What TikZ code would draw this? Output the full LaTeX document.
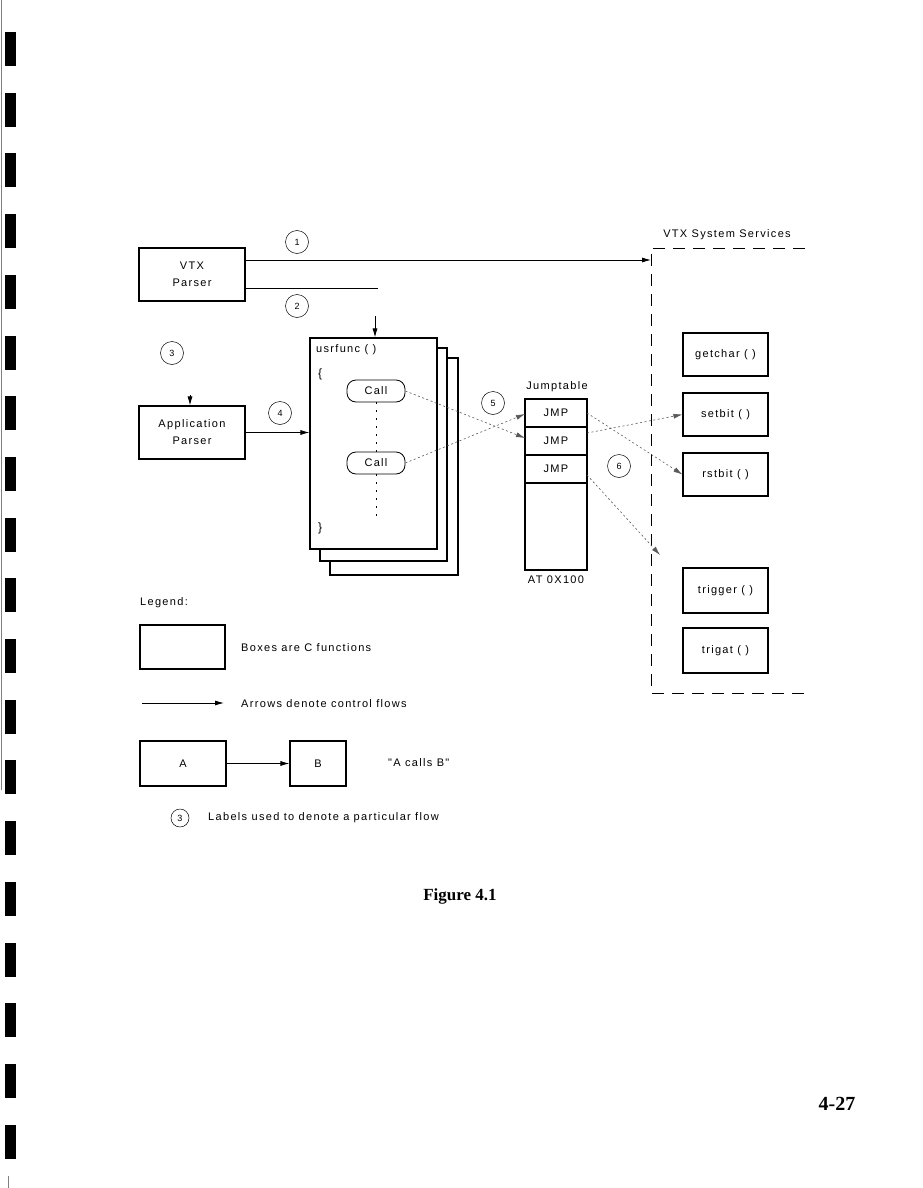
\documentclass[tikz,border=0pt]{standalone}
\usepackage{fontspec}
\usetikzlibrary{arrows.meta}
\newfontfamily\lab{Liberation Sans}[LetterSpace=12]
\newfontfamily\capfont{Liberation Serif}
\begin{document}
\begin{tikzpicture}[x=1pt,y=-1pt,
  box/.style={draw, line width=1.1pt, inner sep=0pt, align=center, font=\lab\fontsize{11}{17}\selectfont, fill=white},
  txt/.style={inner sep=0pt, font=\lab\fontsize{11}{12}\selectfont},
  lbl/.style={circle, draw, line width=0.5pt, minimum size=23, inner sep=0pt, font=\lab\fontsize{9}{10}\selectfont},
  arr/.style={line width=0.8pt, -{Latex[length=9pt,width=5pt]}},
  flow/.style={line width=0.6pt, gray!70!black, dash pattern=on 2pt off 2.5pt, -{Latex[length=9pt,width=5pt]}},
  callbox/.style={draw, rounded corners=9pt, line width=0.8pt, minimum width=58, minimum height=22, inner sep=0pt, font=\lab\fontsize{11}{12}\selectfont, fill=white},
  hole/.style={fill=black}
]
\useasboundingbox (0,0) rectangle (923,1188);

% binder holes and scan edge
\foreach \i in {0,...,18} {\fill[hole] (5,{32+60.7*\i}) rectangle +(11,34);}
\draw[gray, line width=0.6pt] (1.5,0) -- (1.5,790);
\draw[gray, line width=0.5pt] (8,1176) -- (8,1188);

% VTX parser and application parser
\node[box, minimum width=106, minimum height=53] (vtx) at (192,274.5) {VTX\\Parser};
\node[box, minimum width=106, minimum height=53] (app) at (192,432.5) {Application\\Parser};

% usrfunc stack
\node[box, minimum width=128, minimum height=217] (uf3) at (394,466.5) {};
\node[box, minimum width=127, minimum height=213] (uf2) at (383.5,454.5) {};
\node[box, minimum width=127, minimum height=211] (uf) at (373.5,443.5) {};
\node[txt, anchor=west] (uft) at (316,350) {usrfunc ( )};
\node[txt, font=\lab\fontsize{12}{12}\selectfont] (lb) at (320,374) {\{};
\node[txt, font=\lab\fontsize{12}{12}\selectfont] (rb) at (320,528) {\}};
\node[callbox] (call1) at (376,391) {Call};
\node[callbox] (call2) at (376,463) {Call};
\coordinate (ufend) at (376,522);
\draw[line width=0.5pt, dash pattern=on 2pt off 6pt] (call1.south) -- (call2.north);
\draw[line width=0.5pt, dash pattern=on 2pt off 6pt] (call2.south) -- (ufend);

% jumptable
\node[box, minimum width=62, minimum height=171] (jt) at (556,484.5) {};
\node[box, minimum width=62, minimum height=28] (jmp1) at (556,413) {JMP};
\node[box, minimum width=62, minimum height=28] (jmp2) at (556,441) {JMP};
\node[box, minimum width=62, minimum height=28] (jmp3) at (556,469) {JMP};
\node[txt] (jtt) at (557,387) {Jumptable};
\node[txt] (jta) at (556,580) {AT 0X100};

% VTX system services
\draw[line width=0.9pt, dash pattern=on 12pt off 8pt] (805,248) -- (651,248) -- (651,693) -- (805,693);
\node[txt] (vss) at (727,235) {VTX System Services};
\node[box, minimum width=85, minimum height=43] (getchar) at (725.5,354.5) {getchar ( )};
\node[box, minimum width=85, minimum height=43] (setbit) at (725.5,414.5) {setbit ( )};
\node[box, minimum width=85, minimum height=43] (rstbit) at (725.5,474.5) {rstbit ( )};
\node[box, minimum width=85, minimum height=45] (trigger) at (725.5,590.5) {trigger ( )};
\node[box, minimum width=85, minimum height=45] (trigat) at (725.5,650.5) {trigat ( )};

% flow labels
\node[lbl] (l1) at (297,242) {1};
\node[lbl] (l2) at (297,306) {2};
\node[lbl] (l3) at (172,353) {3};
\node[lbl] (l4) at (280,413) {4};
\node[lbl] (l5) at (493,403) {5};
\node[lbl] (l6) at (619,466) {6};

% connectors
\coordinate (c1e) at (651,260);
\draw[arr] (vtx.east |- c1e) -- (c1e);
\coordinate (c2e) at (378,288);
\draw[line width=0.8pt] (vtx.east |- c2e) -- (c2e);
\coordinate (c2b) at (375,316);
\draw[arr] (c2b) -- (c2b |- uf.north);
\coordinate (c3) at (190,395);
\draw[arr] (c3) -- (c3 |- app.north);
\draw[arr] (app.east) -- (app.east -| uf.west);
\coordinate (c5a) at (525,438);
\coordinate (c5b) at (525,414);
\draw[flow] (call1.east) -- (c5a);
\draw[flow] (call2.east) -- (c5b);
\coordinate (c6a) at (587,413);
\coordinate (c6b) at (587,433);
\coordinate (c6c) at (587,475);
\coordinate (c6d) at (660,555);
\draw[flow] (c6a) -- (rstbit.west);
\draw[flow] (c6b) -- (setbit.west);
\draw[flow] (c6c) -- (c6d);

% legend
\node[txt, anchor=west] (leg) at (140,603) {Legend:};
\node[box, minimum width=85, minimum height=44] (legbox) at (182.5,647) {};
\node[txt, anchor=west] (legt1) at (241,648) {Boxes are C functions};
\coordinate (la1) at (142,703);
\coordinate (la2) at (224,703);
\draw[arr] (la1) -- (la2);
\node[txt, anchor=west] (legt2) at (241,704) {Arrows denote control flows};
\node[box, minimum width=86, minimum height=45] (A) at (183,763.5) {A};
\node[box, minimum width=56, minimum height=45] (B) at (318,763.5) {B};
\draw[arr] (A.east) -- (B.west);
\node[txt, anchor=west] (legt3) at (388,763) {"A calls B"};
\node[lbl, minimum size=18] (l3b) at (180,818) {3};
\node[txt, anchor=west] (legt4) at (208,818) {Labels used to denote a particular flow};

% captions
\node[inner sep=0pt, font=\capfont\bfseries\fontsize{17}{19}\selectfont] (fig) at (460,896) {Figure 4.1};
\node[inner sep=0pt, font=\capfont\bfseries\fontsize{20}{22}\selectfont] (pg) at (837,1104) {4-27};
\end{tikzpicture}
\end{document}
